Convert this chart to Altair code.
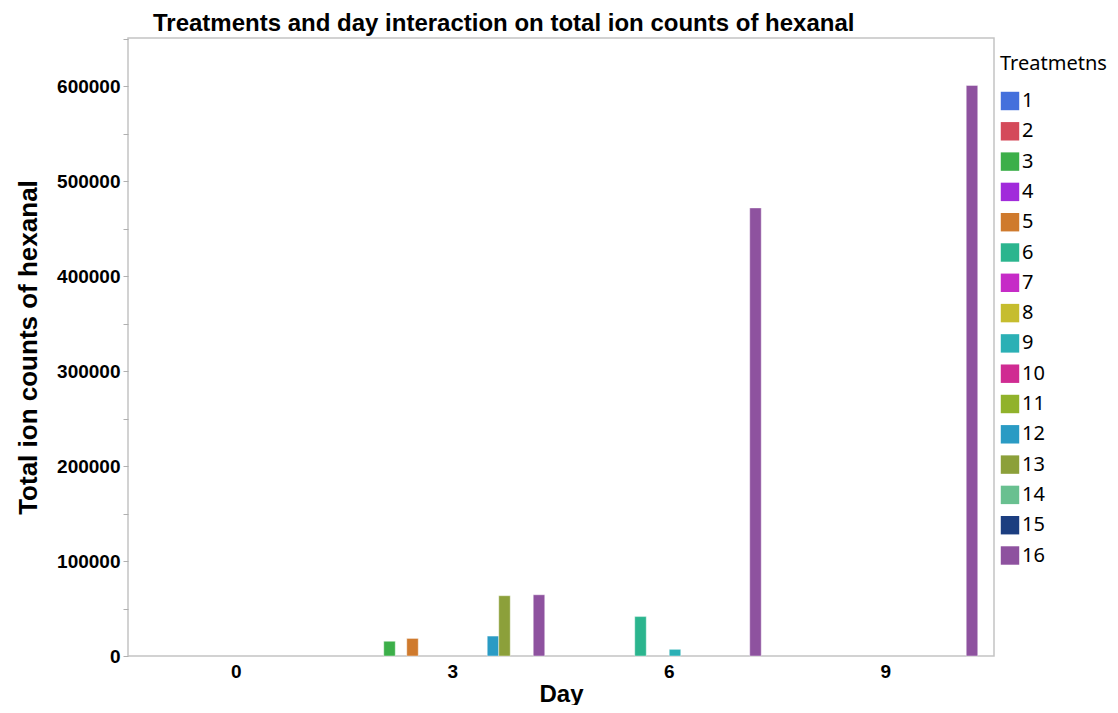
import altair as alt
import pandas as pd

# Data
day_levels = [0, 3, 6, 9]
treatment_levels = [str(i) for i in range(1, 17)]
bar_days = [3, 3, 3, 3, 3, 6, 6, 6, 9]
bar_treatments = ["3", "5", "12", "13", "16", "6", "9", "16", "16"]
bar_values = [15500, 18500, 21000, 63500, 64500, 41500, 7000, 472000, 601000]

colors = ["#4470DC", "#D44A5A", "#3CAF49", "#A12BDB", "#CF7A2D", "#2BB58E",
          "#C62BC7", "#C6BD2E", "#2BB0B5", "#D02B92", "#91B22B", "#2A9BC4",
          "#8CA03A", "#69C090", "#1C3E80", "#8E529F"]

y_ticks = list(range(0, 650001, 50000))

df = pd.DataFrame({"Day": bar_days, "Treatment": bar_treatments, "Value": bar_values})

FONT = "Liberation Sans"
LFONT = "Noto Sans"

chart = alt.Chart(df).mark_bar(stroke="white", strokeWidth=0.6, strokeOpacity=0.7).encode(
    x=alt.X("Day:O",
            scale=alt.Scale(domain=day_levels, paddingInner=0.044, paddingOuter=0.022),
            axis=alt.Axis(title="Day", labelAngle=0, ticks=False, domain=False,
                          labelFont=FONT, labelFontSize=19, labelFontWeight="bold",
                          labelColor="black", labelPadding=6,
                          titleFont=FONT, titleFontSize=24, titleFontWeight="bold",
                          titleColor="black", titlePadding=1)),
    xOffset=alt.XOffset("Treatment:N",
                        scale=alt.Scale(domain=treatment_levels, paddingInner=0, paddingOuter=1)),
    y=alt.Y("Value:Q",
            scale=alt.Scale(domain=[0, 651000], nice=False, zero=True),
            axis=alt.Axis(title="Total ion counts of hexanal", values=y_ticks,
                          labelExpr="datum.value % 100000 == 0 ? datum.value : ''",
                          grid=False, domain=False, tickSize=5, tickColor="#b0b0b0",
                          labelFont=FONT, labelFontSize=19, labelFontWeight="bold",
                          labelColor="black", labelPadding=3,
                          titleFont=FONT, titleFontSize=26, titleFontWeight="bold",
                          titleColor="black", titlePadding=15)),
    color=alt.Color("Treatment:N",
                    scale=alt.Scale(domain=treatment_levels, range=colors),
                    legend=alt.Legend(title="Treatmetns", orient="none",
                                      legendX=872, legendY=16,
                                      symbolType="square", symbolSize=340,
                                      symbolStrokeWidth=0, symbolOpacity=1,
                                      titleFont=LFONT, titleFontSize=20,
                                      titleFontWeight="normal", titleColor="black",
                                      titlePadding=17,
                                      labelFont=LFONT, labelFontSize=20,
                                      labelColor="black", labelOffset=2,
                                      rowPadding=10.3)),
).properties(
    width=866,
    height=618,
    autosize="none",
    padding={"left": 120, "top": 30, "right": 116, "bottom": 49},
    title=alt.TitleParams("Treatments and day interaction on total ion counts of hexanal",
                          anchor="start", frame="group", dx=25, offset=2, font=FONT,
                          fontSize=24, fontWeight="bold", color="black"),
).configure_view(stroke="#c4c4c4", strokeWidth=1.5)

chart.save("out.html", embed_options={"renderer": "svg", "actions": False})
